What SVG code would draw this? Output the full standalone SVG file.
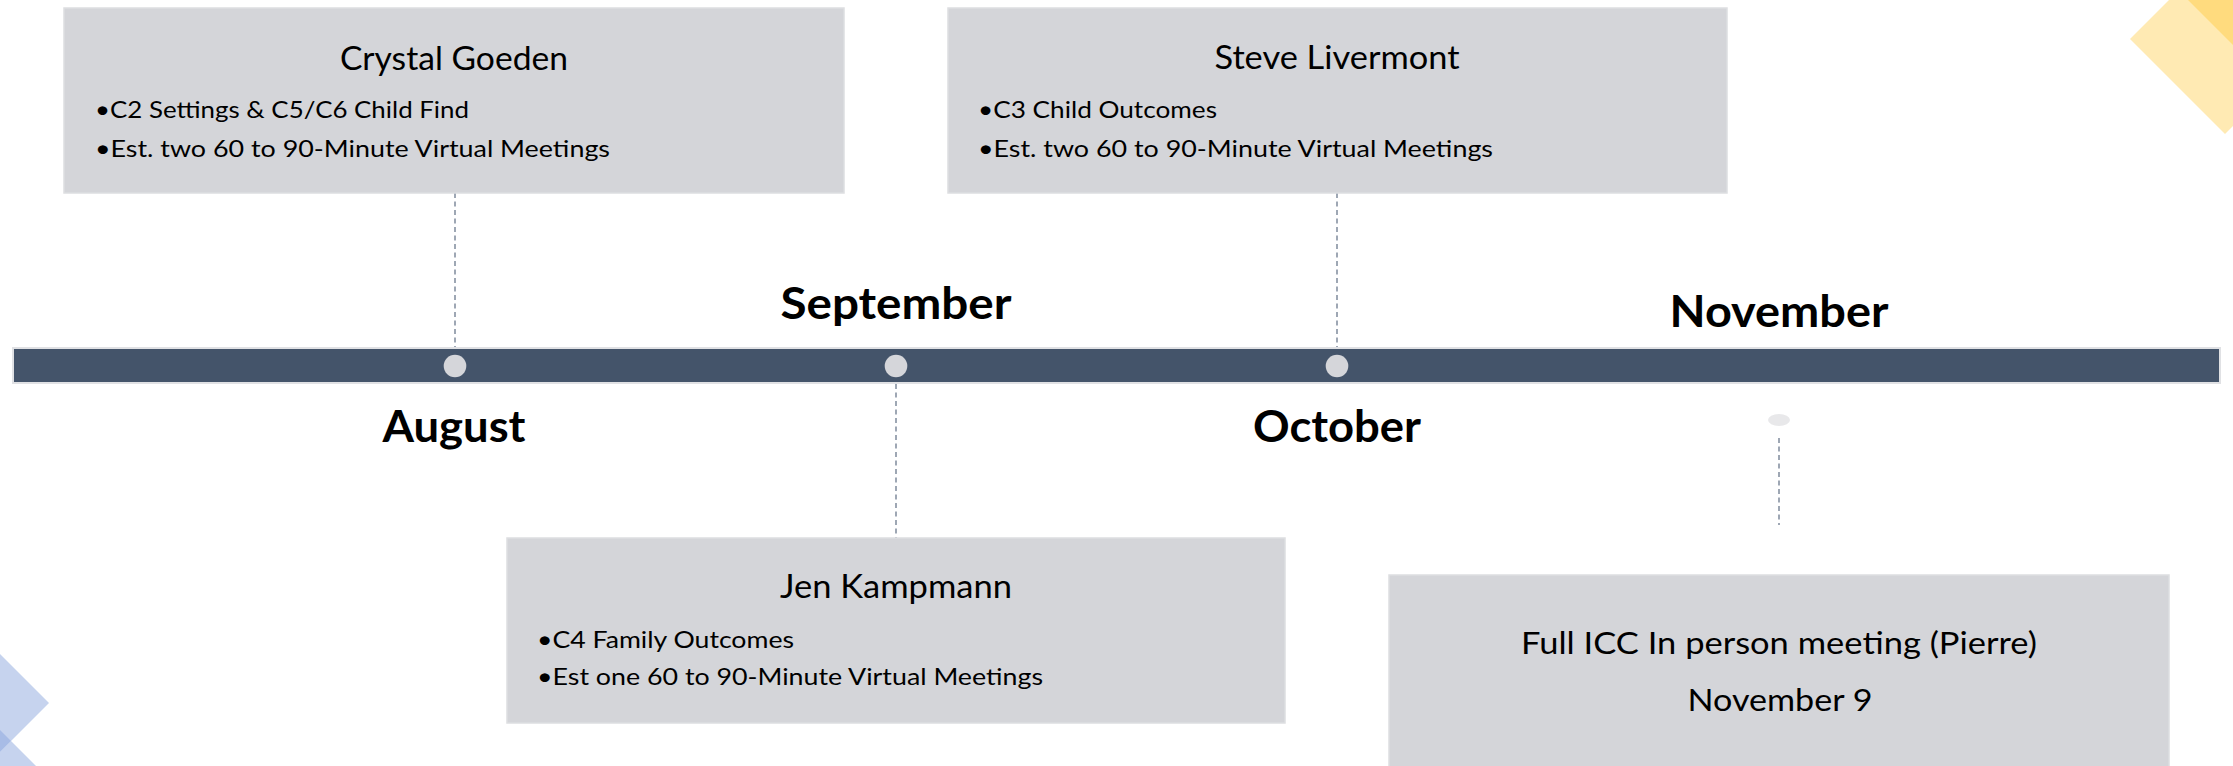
<svg xmlns="http://www.w3.org/2000/svg" width="2233" height="766" viewBox="0 0 2233 766">
<style>
.box{fill:#D4D5D9;stroke:#DDDEE1;stroke-width:1.5}
.title{font-family:Lato,"Liberation Sans",sans-serif;font-size:33px;fill:#000;text-anchor:middle}
.bul{font-family:Lato,"Liberation Sans",sans-serif;font-size:24px;fill:#000}
.big{font-family:Lato,"Liberation Sans",sans-serif;font-size:31px;fill:#000;text-anchor:middle}
.month{font-family:Lato,"Liberation Sans",sans-serif;font-size:43px;font-weight:bold;fill:#000;text-anchor:middle}
.dash{stroke:#7F8B9C;stroke-width:1.5;stroke-dasharray:5 3.5;fill:none}
.dot{fill:#D5D6DA}
</style>
<rect width="2233" height="766" fill="#FFFFFF"/>
<g id="decor">
<polygon points="2169,0 2130,39 2225,134 2233,126 2233,0" fill="#FFEAB3"/>
<polygon points="2188,0 2233,0 2233,45" fill="#FFDB7E"/>
<polygon points="0,654 49,703 0,752" fill="#C6D3EE"/>
<polygon points="0,752 11,741 36,766 0,766" fill="#C6D3EE"/>
<polygon points="0,730 11,741 0,752" fill="#A8BCE6"/>
</g>
<g id="timeline">
<rect x="13" y="348" width="2207" height="35" fill="#44546A" stroke="#E0E1E4" stroke-width="2"/>
<circle class="dot" cx="455" cy="366" r="11.3"/>
<circle class="dot" cx="896" cy="366" r="11.3"/>
<circle class="dot" cx="1337" cy="366" r="11.3"/>
<ellipse cx="1779" cy="420" rx="11" ry="6" fill="#E8E8EA"/>
</g>
<g id="connectors">
<line class="dash" x1="455" y1="193" x2="455" y2="347"/>
<line class="dash" x1="1337" y1="193" x2="1337" y2="347"/>
<line class="dash" x1="896" y1="384" x2="896" y2="538"/>
<line class="dash" x1="1779" y1="438" x2="1779" y2="525"/>
</g>
<g id="months">
<text class="month" x="454" y="442" textLength="143" lengthAdjust="spacingAndGlyphs">August</text>
<text class="month" x="896" y="319" textLength="231" lengthAdjust="spacingAndGlyphs">September</text>
<text class="month" x="1337" y="442" textLength="168" lengthAdjust="spacingAndGlyphs">October</text>
<text class="month" x="1779" y="327" textLength="219" lengthAdjust="spacingAndGlyphs">November</text>
</g>
<g id="node-crystal">
<rect class="box" x="64" y="8" width="780" height="185"/>
<text class="title" x="454" y="70" textLength="228" lengthAdjust="spacingAndGlyphs">Crystal Goeden</text>
<text class="bul" x="95" y="118" textLength="374" lengthAdjust="spacingAndGlyphs">•C2 Settings &amp; C5/C6 Child Find</text>
<text class="bul" x="95" y="157" textLength="515" lengthAdjust="spacingAndGlyphs">•Est. two 60 to 90-Minute Virtual Meetings</text>
</g>
<g id="node-steve">
<rect class="box" x="948" y="8" width="779" height="185"/>
<text class="title" x="1337" y="69" textLength="245" lengthAdjust="spacingAndGlyphs">Steve Livermont</text>
<text class="bul" x="978" y="118" textLength="239" lengthAdjust="spacingAndGlyphs">•C3 Child Outcomes</text>
<text class="bul" x="978" y="157" textLength="515" lengthAdjust="spacingAndGlyphs">•Est. two 60 to 90-Minute Virtual Meetings</text>
</g>
<g id="node-jen">
<rect class="box" x="507" y="538" width="778" height="185"/>
<text class="title" x="896" y="598" textLength="232" lengthAdjust="spacingAndGlyphs">Jen Kampmann</text>
<text class="bul" x="537" y="648" textLength="257" lengthAdjust="spacingAndGlyphs">•C4 Family Outcomes</text>
<text class="bul" x="537" y="685" textLength="506" lengthAdjust="spacingAndGlyphs">•Est one 60 to 90-Minute Virtual Meetings</text>
</g>
<g id="node-icc">
<rect class="box" x="1389" y="575" width="780" height="200"/>
<text class="big" x="1779" y="654" textLength="516" lengthAdjust="spacingAndGlyphs">Full ICC In person meeting (Pierre)</text>
<text class="big" x="1780" y="711" textLength="185" lengthAdjust="spacingAndGlyphs">November 9</text>
</g>
</svg>
